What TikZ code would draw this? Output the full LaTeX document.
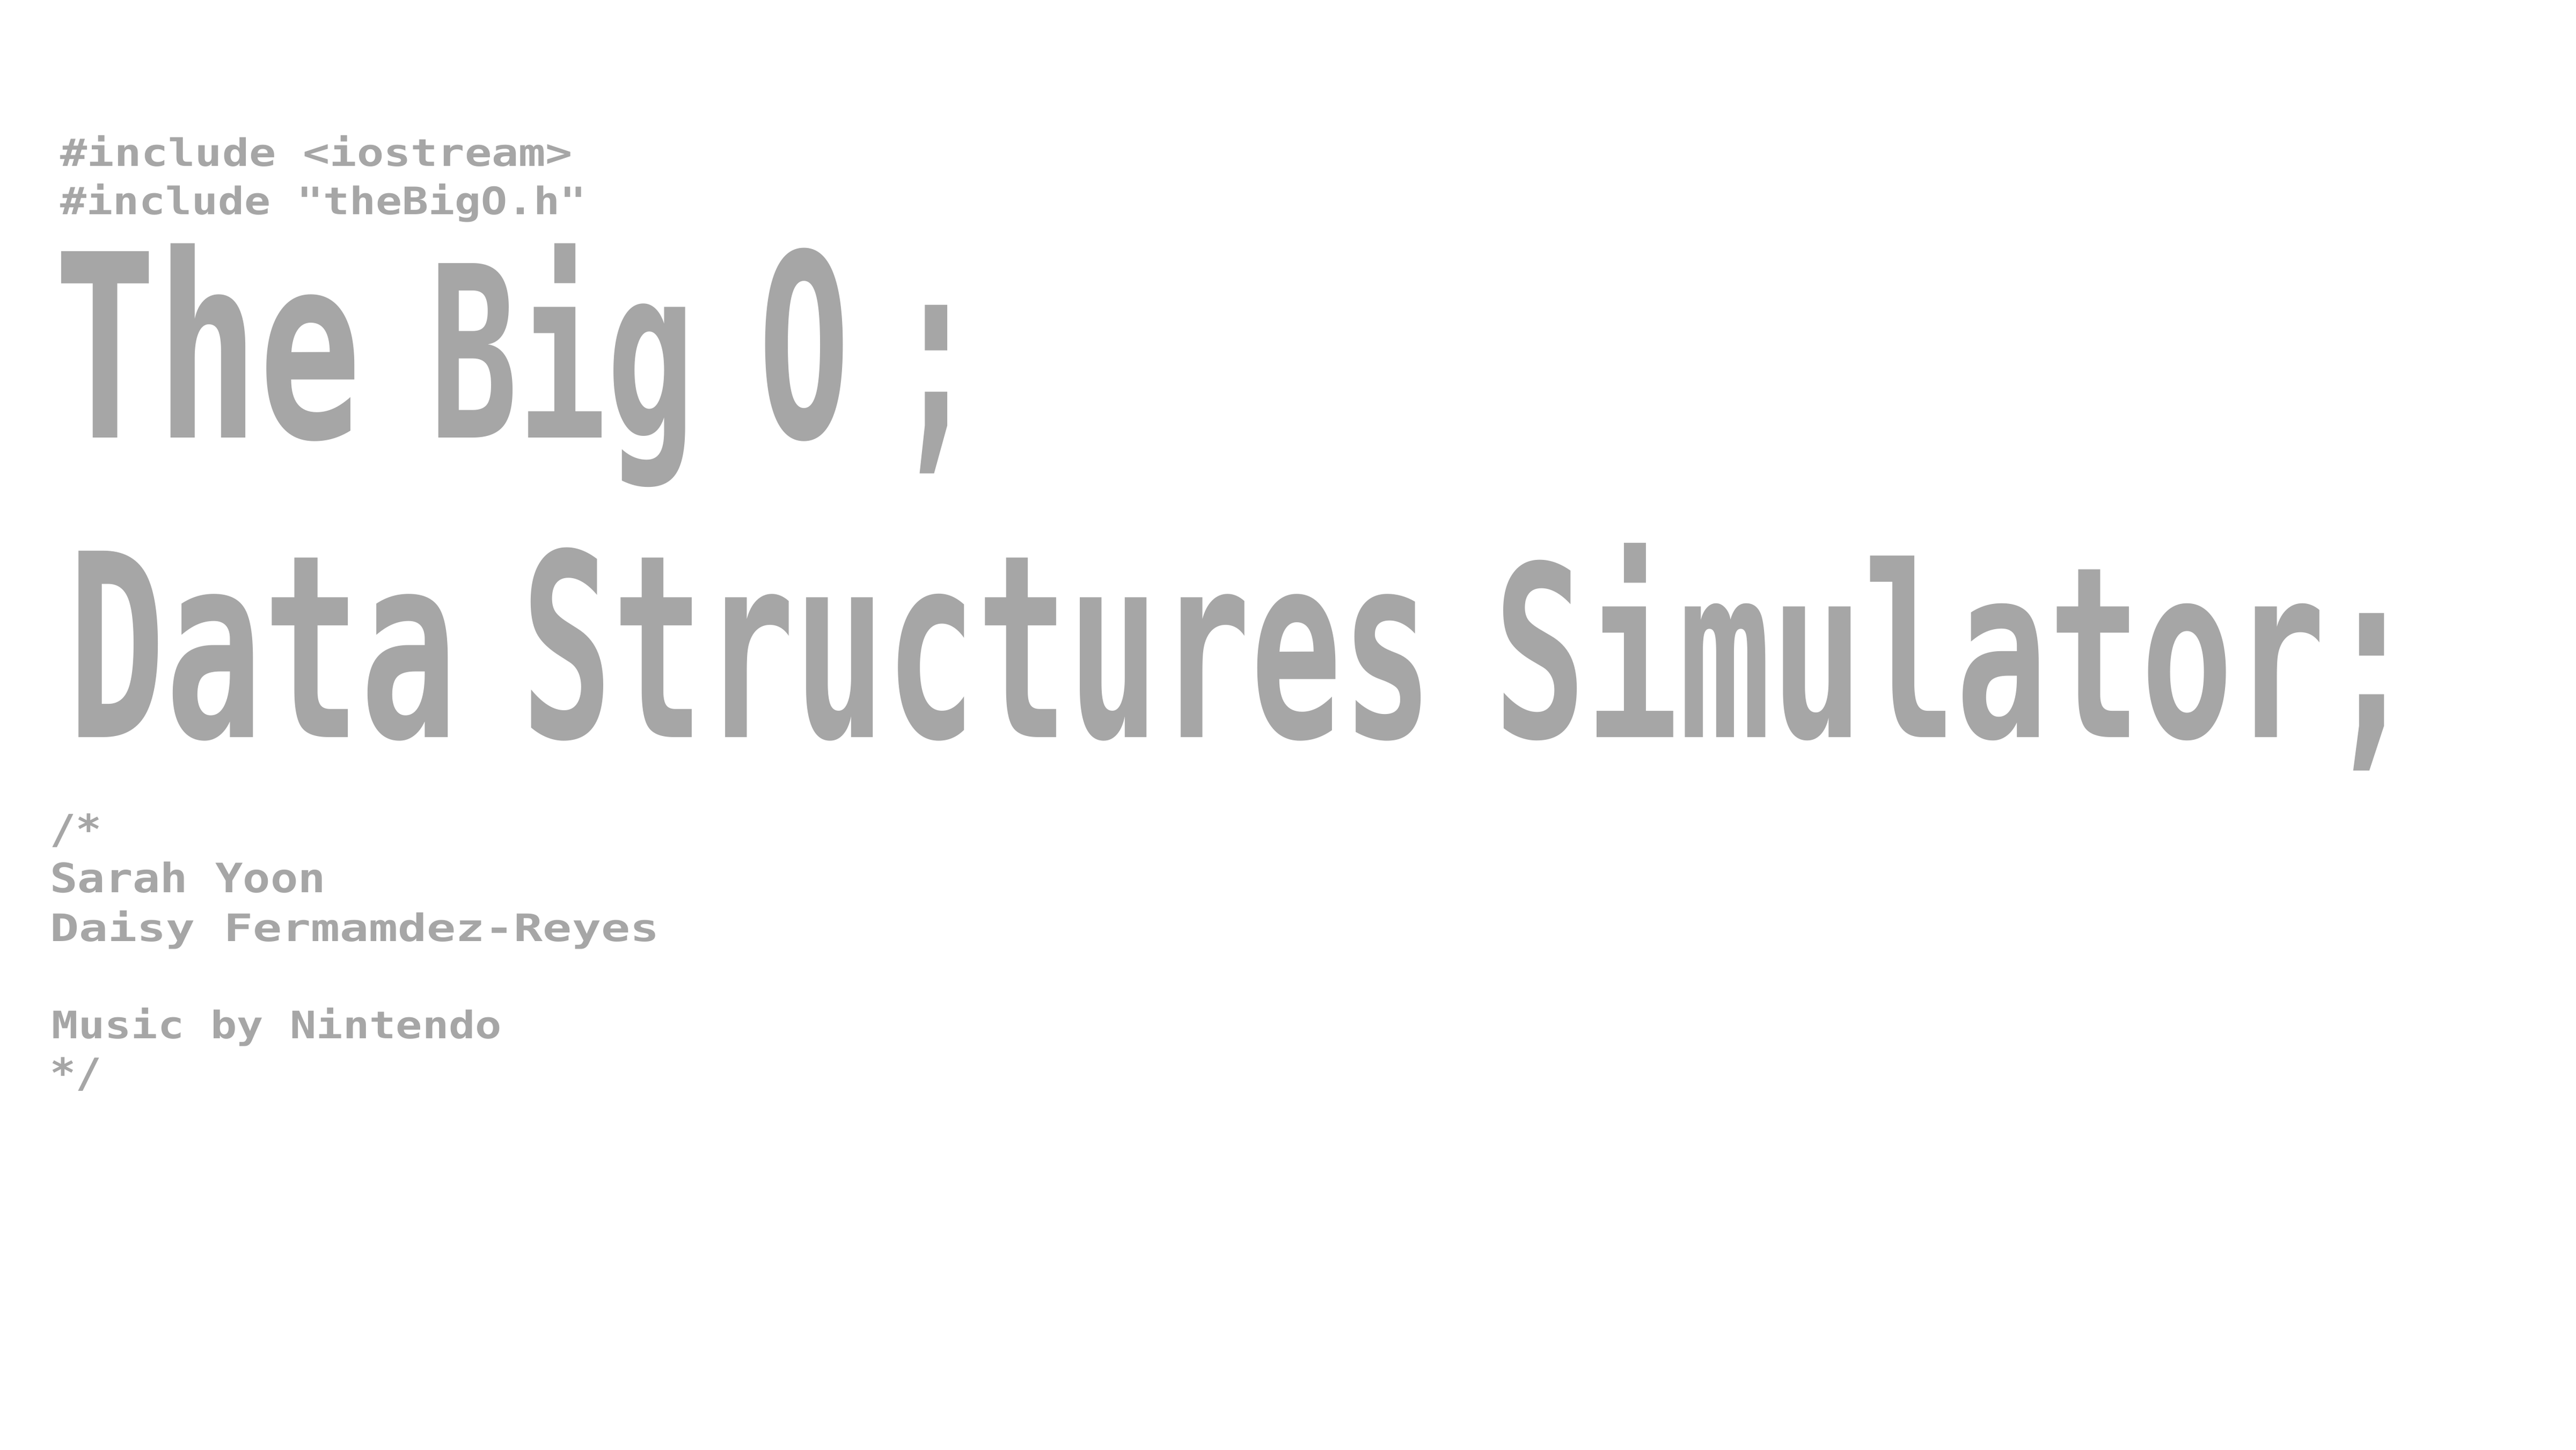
\documentclass[tikz,border=0pt]{standalone}
\usepackage{fontspec}
\setmonofont{DejaVu Sans Mono}
\usepackage{graphicx}
\definecolor{pixgray}{RGB}{166,166,166}
\newcommand{\smallline}[2]{\resizebox{#1}{0.555cm}{\vphantom{l}#2}}
\newcommand{\bigword}[2]{\resizebox{#1}{3.51cm}{\vphantom{h}#2}}
\begin{document}
\begin{tikzpicture}[x=0.03cm,y=-0.03cm,
  txt/.style={anchor=base west,inner sep=0pt,outer sep=0pt,text=pixgray,
    font=\ttfamily\bfseries\fontsize{22pt}{26pt}\selectfont},
  bigtxt/.style={anchor=base west,inner sep=0pt,outer sep=0pt,text=pixgray,
    font=\ttfamily\bfseries\fontsize{100pt}{120pt}\selectfont}]
\useasboundingbox[fill=white] (0,0) rectangle (1552,873);
% include lines
\node[txt] (inc1) at (36.4,100.2) {\smallline{9.26cm}{\#include <iostream>}};
\node[txt] (inc2) at (36.4,129.3) {\smallline{9.50cm}{\#include "theBigO.h"}};
% title
\node[bigtxt] (w1) at (32.5,263.6) {\bigword{5.565cm}{The}};
\node[bigtxt] (w2) at (258.7,263.6) {\bigword{4.8cm}{Big}};
\node[bigtxt] (w3) at (457,263.6) {\bigword{1.65cm}{O}};
\node[bigtxt] (w4) at (539,263.6) {\bigword{1.5cm}{;}};
% subtitle
\node[bigtxt] (s1) at (41,444) {\bigword{7.05cm}{Data}};
\node[bigtxt] (s2) at (314,444) {\bigword{16.485cm}{Structures}};
\node[bigtxt] (s3) at (900,444) {\bigword{16.71cm}{Simulator;}};
% comment block
\node[txt] (c1) at (30.3,508) {\smallline{0.93cm}{/*}};
\node[txt] (a1) at (30.2,537.5) {\smallline{4.98cm}{Sarah Yoon}};
\node[txt] (a2) at (30.1,567) {\smallline{11.01cm}{Daisy Fermamdez-Reyes}};
\node[txt] (m1) at (31.3,625.5) {\smallline{8.13cm}{Music by Nintendo}};
\node[txt] (c2) at (30.3,655) {\smallline{0.93cm}{*/}};
\end{tikzpicture}
\end{document}
